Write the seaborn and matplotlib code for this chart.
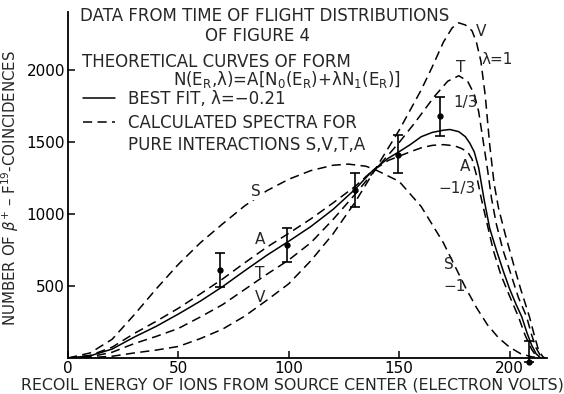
import pandas as pd
import numpy as np
from matplotlib import pyplot as plt
from matplotlib.lines import Line2D
import seaborn as sns

# ---------- values -----------------------------------------------------
energy_S = [0, 10, 20, 30, 40, 50, 60, 70, 80, 90, 100, 110, 120, 127, 135, 140,
            150, 160, 170, 175, 180, 185, 190, 195, 200, 205, 210, 214]
counts_S = [0, 35, 130, 300, 480, 650, 800, 930, 1055, 1160, 1240, 1300, 1337, 1345,
            1330, 1300, 1225, 1050, 800, 645, 490, 350, 230, 140, 75, 30, 8, 0]

energy_A = [0, 10, 20, 30, 40, 50, 60, 70, 80, 90, 100, 110, 120, 130, 138, 145, 150,
            155, 160, 165, 170, 175, 178, 181, 183, 185, 187, 190, 192.6, 196, 200,
            204, 207, 210, 212, 213.5]
counts_A = [0, 18, 75, 170, 255, 345, 445, 548, 660, 768, 865, 965, 1075, 1190, 1300,
            1370, 1400, 1430, 1458, 1475, 1480, 1472, 1455, 1430, 1380, 1270, 1120, 920,
            750, 580, 430, 287, 160, 60, 15, 0]

energy_fit = [0, 10, 20, 30, 40, 50, 60, 70, 80, 90, 100, 110, 120, 130, 138, 145, 150,
              155, 160, 165, 170, 173, 177, 180, 182, 184, 186, 188.5, 191, 194, 197,
              200, 203, 205.5, 208, 210, 212, 214]
counts_fit = [0, 15, 62, 145, 220, 305, 395, 495, 605, 712, 810, 912, 1030, 1170, 1300,
              1385, 1431, 1480, 1535, 1565, 1580, 1585, 1570, 1535, 1490, 1430, 1320, 1097,
              900, 750, 610, 480, 370, 287, 170, 90, 30, 0]

energy_T = [0, 10, 20, 30, 40, 50, 60, 70, 80, 90, 100, 110, 120, 130, 140, 150, 157,
            166, 172, 177, 181, 184, 186, 188, 190, 191.8, 194, 197, 200, 204, 207.7,
            210, 212, 214, 215.5]
counts_T = [0, 8, 40, 100, 150, 205, 285, 370, 475, 580, 680, 800, 960, 1135, 1320, 1495,
            1630, 1815, 1920, 1958, 1920, 1830, 1710, 1510, 1310, 1110, 930, 750, 610, 420,
            287, 160, 70, 15, 0]

energy_V = [0, 10, 20, 30, 40, 50, 60, 70, 80, 90, 100, 110, 120, 130, 140, 150, 160, 165,
            170, 174, 177, 180, 183, 185, 187, 189, 191, 193, 195, 198, 202, 205, 209,
            211, 213, 215, 216]
counts_V = [0, 3, 12, 35, 55, 80, 135, 200, 290, 400, 515, 675, 860, 1080, 1330, 1580,
            1860, 2020, 2190, 2290, 2325, 2310, 2270, 2190, 2060, 1820, 1480, 1210, 1040,
            860, 640, 480, 287, 170, 60, 10, 0]

# measured points with error bars
pt_energy = [69, 99, 130, 149.5, 168.6, 209]
pt_counts = [611, 785, 1167, 1410, 1680, -25]
pt_err_lo = [120, 120, 118, 125, 138, 0]
pt_err_hi = [119, 115, 118, 139, 132, 145]

x_ticks = [0, 50, 100, 150, 200]
y_ticks = [500, 1000, 1500, 2000]

# ---------- build table ---------------------------------------------------
frames = []
for name, ex, cy in [("S", energy_S, counts_S), ("A", energy_A, counts_A),
                     ("fit", energy_fit, counts_fit), ("T", energy_T, counts_T),
                     ("V", energy_V, counts_V)]:
    frames.append(pd.DataFrame({"energy": ex, "counts": cy, "curve": name}))
df = pd.concat(frames, ignore_index=True)

sns.set_style("ticks")
plt.rcParams["font.family"] = ["DejaVu Sans"]
plt.rcParams["mathtext.fontset"] = "dejavusans"

fig = plt.figure(figsize=(5.64, 3.94), dpi=100)
ax = fig.add_axes([0.1206, 0.0914, 0.8494, 0.8781])

dash = (6, 3.5)
sns.lineplot(
    data=df, x="energy", y="counts", hue="curve", style="curve",
    palette={k: "black" for k in ["S", "A", "fit", "T", "V"]},
    dashes={"S": dash, "A": dash, "fit": "", "T": dash, "V": dash},
    linewidth=1.1, sort=False, estimator=None, legend=False, ax=ax,
)

ax.errorbar(pt_energy, pt_counts, yerr=[pt_err_lo, pt_err_hi], fmt="o", ms=3.5,
            color="black", ecolor="black", elinewidth=1.2, capsize=3.5, capthick=1.2,
            clip_on=False, zorder=5)

ax.set_xlim(0, 217)
ax.set_ylim(0, 2400)
ax.set_xticks(x_ticks)
ax.set_yticks(y_ticks)
ax.tick_params(direction="in", length=5, width=1.1, labelsize=11, pad=2,
               colors="black")
sns.despine(ax=ax)
for sp in ["left", "bottom"]:
    ax.spines[sp].set_linewidth(1.3)
    ax.spines[sp].set_color("black")

fs = 12
ax.set_xlabel("RECOIL ENERGY OF IONS FROM SOURCE CENTER (ELECTRON VOLTS)", fontsize=11.4)
ax.xaxis.set_label_coords(0.468, -0.056)
ax.set_ylabel(r"NUMBER OF $\beta^{+}$ – F$^{19}$-COINCIDENCES", fontsize=10.8)
ax.yaxis.set_label_coords(-0.098, 0.49)

# header text
ax.text(5.5, 2375, "DATA FROM TIME OF FLIGHT DISTRIBUTIONS", fontsize=fs, va="center")
ax.text(86, 2236, "OF FIGURE 4", fontsize=fs, va="center", ha="center")
ax.text(6.4, 2055, "THEORETICAL CURVES OF FORM", fontsize=fs, va="center")
ax.text(99, 1930,
        r"N(E$_\mathrm{R}$,λ)=A[N$_\mathrm{0}$(E$_\mathrm{R}$)+λN$_\mathrm{1}$(E$_\mathrm{R}$)]",
        fontsize=fs, va="center", ha="center")

handles = [Line2D([], [], color="black", lw=1.1),
           Line2D([], [], color="black", lw=1.1, dashes=dash)]
leg = ax.legend(handles, ["BEST FIT, λ=−0.21", "CALCULATED SPECTRA FOR"],
                loc="upper left", bbox_to_anchor=(0.018, 0.795), frameon=False, fontsize=fs,
                handlelength=1.9, handletextpad=0.8, labelspacing=0.4, borderaxespad=0)
ax.text(27.3, 1478, "PURE INTERACTIONS S,V,T,A", fontsize=fs, va="center")

# curve labels
labels = [(85, 1153, "S"), (87, 820, "A"), (87, 583, "T"), (87, 417, "V"),
          (187, 2264, "V"), (194.5, 2070, "λ=1"), (178, 2014, "T"), (180, 1770, "1/3"),
          (180, 1325, "A"), (176, 1175, "−1/3"), (172.5, 650, "S"), (175, 495, "−1")]
for lx, ly, s in labels:
    t = ax.text(lx, ly, s, fontsize=11, ha="center", va="center")
    if s == "S" and ly > 1000:
        t.set_bbox(dict(facecolor="white", edgecolor="none", pad=0.5))

plt.savefig("out.png", dpi=100)
